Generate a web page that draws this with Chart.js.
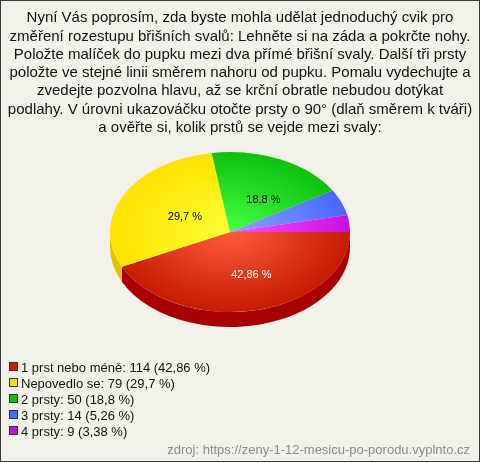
<!DOCTYPE html>
<html>
<head>
<meta charset="utf-8">
<script src="https://cdn.jsdelivr.net/npm/chart.js@4/dist/chart.umd.min.js"></script>
<style>
  html, body { margin: 0; padding: 0; background: #f3f2ea; }
  #wrap { width: 480px; height: 462px; }
</style>
</head>
<body>
<div id="wrap"><canvas id="surveyChart" width="480" height="462"></canvas></div>
<script>
const titleLines = [
  'Nyní Vás poprosím, zda byste mohla udělat jednoduchý cvik pro',
  'změření rozestupu břišních svalů: Lehněte si na záda a pokrčte nohy.',
  'Položte malíček do pupku mezi dva přímé břišní svaly. Další tři prsty',
  'položte ve stejné linii směrem nahoru od pupku. Pomalu vydechujte a',
  'zvedejte pozvolna hlavu, až se krční obratle nebudou dotýkat',
  'podlahy. V úrovni ukazováčku otočte prsty o 90° (dlaň směrem k tváři)',
  'a ověřte si, kolik prstů se vejde mezi svaly:'
];
const categories = ['1 prst nebo méně', 'Nepovedlo se', '2 prsty', '3 prsty', '4 prsty'];
const counts = [114, 79, 50, 14, 9];
const percents = ['42,86', '29,7', '18,8', '5,26', '3,38'];
const sourceText = 'zdroj: https://zeny-1-12-mesicu-po-porodu.vyplnto.cz';

// colours: light centre, darker rim, side wall, legend swatch
const innerColors = ['#ff5c3c', '#ffff34', '#46ff46', '#8ea4ff', '#ff4cff'];
const outerColors = ['#c41a00', '#ffe200', '#0cc00c', '#4466ff', '#c810dc'];
const sideColors = ['#a80000', '#e0c200', '#089008', '#2a44cc', '#9a00aa'];
const swatchColors = ['#c42000', '#f4e000', '#10c010', '#4070ff', '#c010d0'];
const labelColors = ['#ffffff', '#000000', '#000000', '#000000', '#000000'];

const pieCenter = { x: 230, y: 232 };
const squash = 0.667;
const depth = 15;
const font = '"Liberation Sans", Arial, sans-serif';

function topGradient(ctx) {
  const chart = ctx.chart;
  const a = chart.chartArea;
  if (!a) return innerColors[ctx.dataIndex];
  const cx = (a.left + a.right) / 2, cy = (a.top + a.bottom) / 2;
  const g = chart.ctx.createRadialGradient(cx, cy, 0, cx, cy, 122);
  g.addColorStop(0, innerColors[ctx.dataIndex]);
  g.addColorStop(1, outerColors[ctx.dataIndex]);
  return g;
}

const pie3d = {
  id: 'pie3d',
  beforeDraw(chart) {
    const c = chart.ctx;
    c.save();
    c.fillStyle = '#f3f2ea';
    c.fillRect(0, 0, chart.width, chart.height);
    c.strokeStyle = '#3a3a3a';
    c.lineWidth = 1;
    c.strokeRect(0.5, 0.5, chart.width - 1, chart.height - 1);
    c.restore();
  },
  beforeDatasetDraw(chart, args) {
    const c = chart.ctx;
    const arcs = args.meta.data;
    // side wall, only the front half (0..PI) is visible
    arcs.forEach((arc, i) => {
      const s = Math.max(arc.startAngle, 0);
      const e = Math.min(arc.endAngle, Math.PI);
      if (e <= s) return;
      const rx = arc.outerRadius, ry = rx * squash;
      c.save();
      c.beginPath();
      c.ellipse(pieCenter.x, pieCenter.y, rx, ry, 0, s, e);
      c.ellipse(pieCenter.x, pieCenter.y + depth, rx, ry, 0, e, s, true);
      c.closePath();
      c.fillStyle = sideColors[i];
      c.fill();
      c.restore();
    });
    const ax = arcs[0].x, ay = arcs[0].y;
    c.save();
    c.translate(pieCenter.x, pieCenter.y);
    c.scale(1, squash);
    c.translate(-ax, -ay);
  },
  afterDatasetDraw(chart, args) {
    const c = chart.ctx;
    c.restore();
    const arcs = args.meta.data;
    const ax = arcs[0].x, ay = arcs[0].y;
    const total = counts.reduce((a, b) => a + b, 0);
    c.save();
    c.font = '11px ' + font;
    c.textAlign = 'center';
    c.textBaseline = 'middle';
    arcs.forEach((arc, i) => {
      if (counts[i] / total < 0.1) return; // small slices get no label
      const p = arc.tooltipPosition();
      const x = pieCenter.x + (p.x - ax) + 8;
      const y = pieCenter.y + (p.y - ay) * squash + 4;
      c.fillStyle = labelColors[i];
      c.fillText(percents[i] + ' %', x, y);
    });
    c.restore();
  },
  afterDraw(chart) {
    const c = chart.ctx;
    c.save();
    c.font = '13px ' + font;
    c.textBaseline = 'middle';
    categories.forEach((name, i) => {
      const y = 367 + i * 16;
      c.fillStyle = swatchColors[i];
      c.fillRect(9, y - 5, 9, 9);
      c.strokeStyle = '#333333';
      c.lineWidth = 1;
      c.strokeRect(9.5, y - 4.5, 8, 8);
      c.fillStyle = '#111111';
      c.fillText(name + ': ' + counts[i] + ' (' + percents[i] + ' %)', 21, y + 1);
    });
    c.fillStyle = '#8a8a8a';
    c.textAlign = 'right';
    c.fillText(sourceText, 470, 450);
    c.restore();
  }
};

const ctx = document.getElementById('surveyChart').getContext('2d');
const surveyChart = new Chart(ctx, {
  type: 'pie',
  data: {
    labels: categories,
    datasets: [
      {
        data: counts,
        backgroundColor: topGradient,
        borderWidth: 0,
        radius: 120,
        clip: false,
      },
    ],
  },
  options: {
    responsive: false,
    animation: false,
    events: [],
    rotation: 90,
    layout: { padding: { top: 0, bottom: 0, left: 0, right: 0 } },
    plugins: {
      legend: { display: false },
      tooltip: { enabled: false },
      title: {
        display: true,
        text: titleLines,
        color: '#111111',
        font: { family: font, size: 15, weight: 'normal', lineHeight: 1.22 },
        padding: { top: 9, bottom: 10 },
      },
    },
  },
  plugins: [pie3d],
});
</script>
</body>
</html>
